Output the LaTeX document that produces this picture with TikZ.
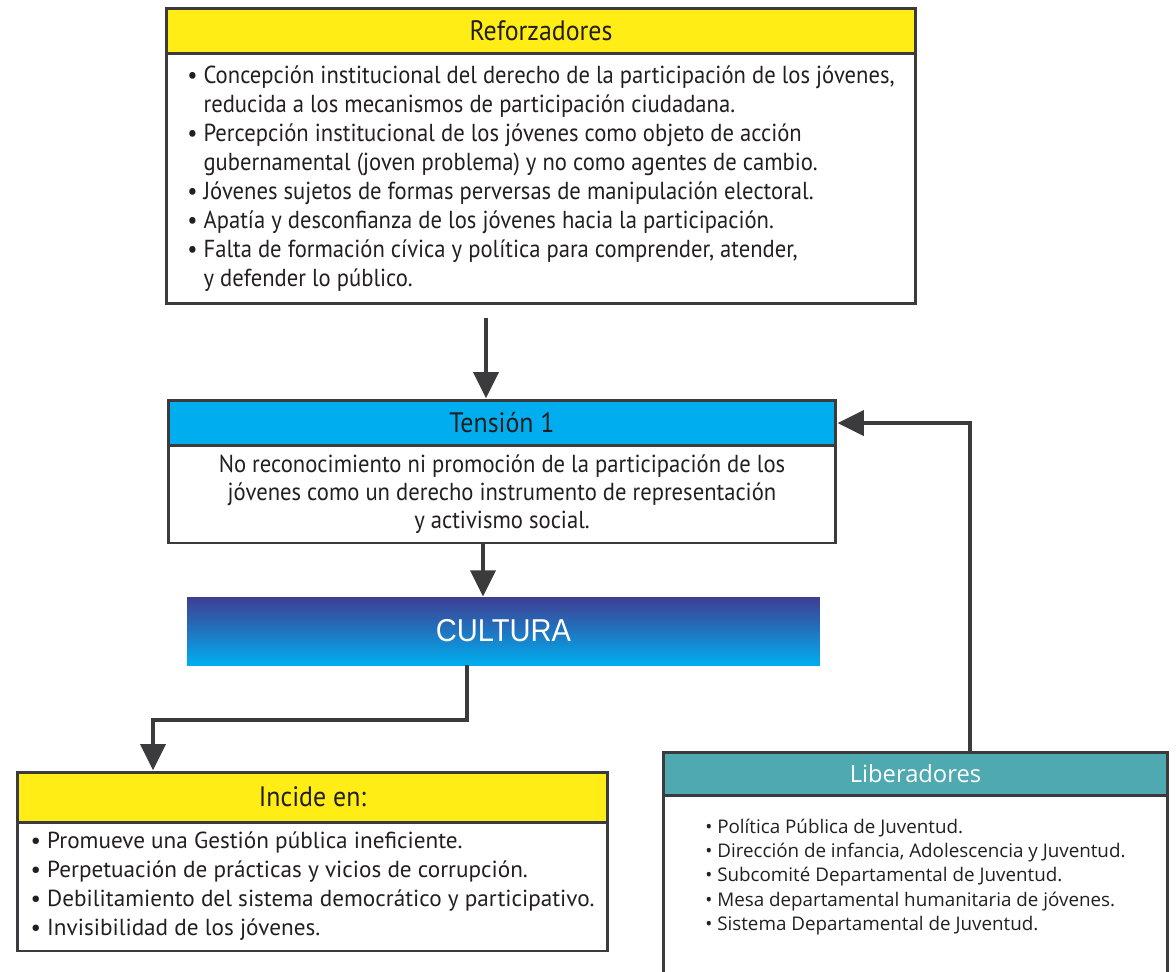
\documentclass[tikz,border=0pt]{standalone}
\usepackage{fontspec}
\usepackage{xcolor}
\usetikzlibrary{arrows.meta}

\newfontfamily\condfont{PT Sans}[FakeStretch=0.92]
\newfontfamily\listfont{PT Sans}
\newfontfamily\libfont{Open Sans}
\newfontfamily\cultfont{Liberation Sans}[FakeStretch=0.92]

\definecolor{refyellow}{RGB}{255,237,21}
\definecolor{tenblue}{RGB}{0,174,239}
\definecolor{libteal}{RGB}{79,169,177}
\definecolor{cultop}{RGB}{63,61,146}
\definecolor{boxline}{RGB}{59,59,61}
\definecolor{textdark}{RGB}{35,31,32}

\begin{document}
\begin{tikzpicture}[x=0.02cm,y=-0.02cm,
	box/.style={draw=boxline,line width=1.7pt,inner sep=0pt,text=textdark},
	conn/.style={draw=boxline,line width=2.8pt,-{Triangle[width=14pt,length=15pt]}}]
	\useasboundingbox (0,0) rectangle (1176,971);

	% reforzadores
	\node[box,fill=refyellow,minimum width=15cm,minimum height=0.9cm,font=\condfont\fontsize{16}{19}\selectfont] (refhead) at (541,30.5) {Reforzadores};
	\node[box,fill=white,minimum width=15cm,minimum height=5.02cm,align=left,font=\condfont\fontsize{14}{16.5}\selectfont] (refbody) at (541,178.5) {%
		• Concepción institucional del derecho de la participación de los jóvenes,\\
		\phantom{• }reducida a los mecanismos de participación ciudadana.\\
		• Percepción institucional de los jóvenes como objeto de acción\\
		\phantom{• }gubernamental (joven problema) y no como agentes de cambio.\\
		• Jóvenes sujetos de formas perversas de manipulación electoral.\\
		• Apatía y desconfianza de los jóvenes hacia la participación.\\
		• Falta de formación cívica y política para comprender, atender,\\
		\phantom{• }y defender lo público.};

	% tension
	\node[box,fill=tenblue,minimum width=13.36cm,minimum height=0.9cm,font=\condfont\fontsize{16}{19}\selectfont] (tenhead) at (502,422.5) {Tensión 1};
	\node[box,fill=white,minimum width=13.36cm,minimum height=1.96cm,align=center,font=\condfont\fontsize{14}{16}\selectfont] (tenbody) at (502,494) {%
		No reconocimiento ni promoción de la participación de los\\
		jóvenes como un derecho instrumento de representación\\
		y activismo social.};

	% cultura
	\node[inner sep=0pt,minimum width=12.66cm,minimum height=1.36cm,top color=cultop,bottom color=tenblue,text=white,font=\cultfont\fontsize{18}{21}\selectfont] (cultura) at (503.5,631) {CULTURA};

	% incide en
	\node[box,fill=refyellow,minimum width=11.82cm,minimum height=1cm,font=\condfont\fontsize{16}{19}\selectfont] (inchead) at (312.5,797) {Incide en:};
	\node[box,fill=white,minimum width=11.82cm,minimum height=2.58cm,align=left,font=\listfont\fontsize{13.2}{16.5}\selectfont] (incbody) at (312.5,886.5) {%
		• Promueve una Gestión pública ineficiente.\\
		• Perpetuación de prácticas y vicios de corrupción.\\
		• Debilitamiento del sistema democrático y participativo.\\
		• Invisibilidad de los jóvenes.};

	% liberadores
	\node[box,fill=libteal,text=white,minimum width=10.1cm,minimum height=0.86cm,font=\libfont\fontsize{13.5}{16}\selectfont] (libhead) at (915.5,773.5) {Liberadores};
	\node[box,fill=white,minimum width=10.1cm,minimum height=3.56cm] (libbody) at (915.5,884) {};
	\node[anchor=west,inner sep=0pt,align=left,text=textdark,font=\libfont\fontsize{10.7}{13.7}\selectfont] (libtext) at (705,877) {%
		• Política Pública de Juventud.\\
		• Dirección de infancia, Adolescencia y Juventud.\\
		• Subcomité Departamental de Juventud.\\
		• Mesa departamental humanitaria de jóvenes.\\
		• Sistema Departamental de Juventud.};

	% connectors
	\coordinate (c1) at (486,0);
	\coordinate (c2) at (483,0);
	\coordinate (k1) at (467,720);
	\coordinate (k2) at (153,720);
	\coordinate (k3) at (970,423);
	\draw[conn,shorten <=7pt] (refbody.south -| c1) -- (tenhead.north -| c1);
	\draw[conn] (tenbody.south -| c2) -- (cultura.north -| c2);
	\draw[conn] (cultura.south -| k1) -- (k1) -- (k2) -- (inchead.north -| k2);
	\draw[conn] (libhead.north -| k3) -- (k3) -- (tenhead.east |- k3);
\end{tikzpicture}
\end{document}
